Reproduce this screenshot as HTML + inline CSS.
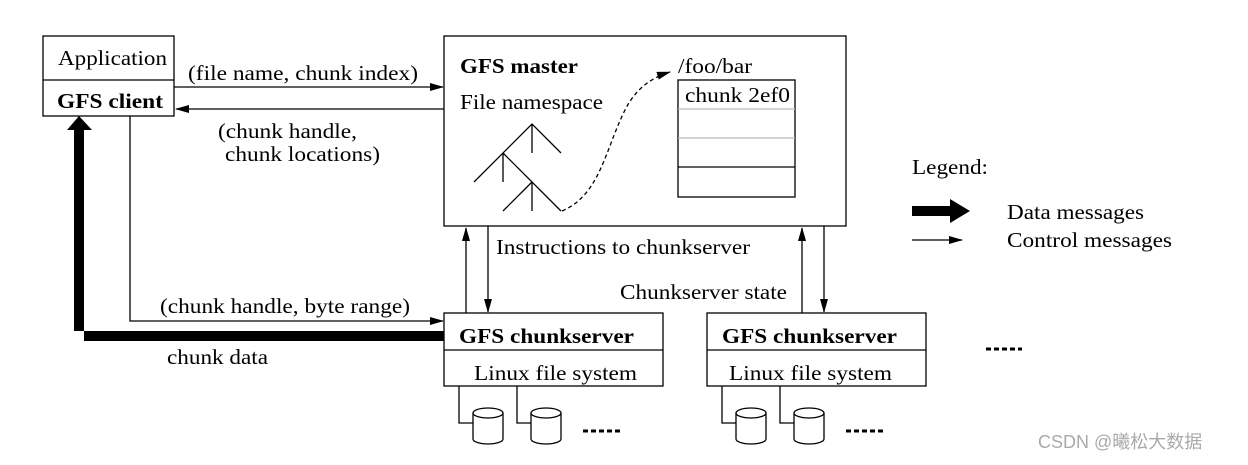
<!DOCTYPE html>
<html><head><meta charset="utf-8"><style>
html,body{margin:0;padding:0;background:#fff}
svg text{font-family:"Liberation Serif",serif;font-size:21px;fill:#000}
.b{font-weight:bold}
</style></head><body>
<svg width="1248" height="460" viewBox="0 0 1248 460" xmlns="http://www.w3.org/2000/svg">
<defs>
<marker id="a" markerWidth="14" markerHeight="8" refX="13" refY="4" orient="auto" markerUnits="userSpaceOnUse"><path d="M0,0L14,4L0,8z" fill="#000"/></marker>
</defs>
<g fill="none" stroke="#000" stroke-width="1.3">
<rect x="43" y="36" width="131" height="80"/><line x1="43" y1="80" x2="174" y2="80"/>
<rect x="444" y="36" width="402" height="190"/>
<rect x="444" y="313" width="219" height="73"/><line x1="444" y1="350" x2="663" y2="350"/>
<rect x="707" y="313" width="219" height="73"/><line x1="707" y1="350" x2="926" y2="350"/>
<line x1="174" y1="87" x2="443" y2="87" marker-end="url(#a)"/>
<line x1="444" y1="109" x2="176" y2="109" marker-end="url(#a)"/>
<polyline points="130,116 130,321 443,321" marker-end="url(#a)"/>
<line x1="466" y1="313" x2="466" y2="228" marker-end="url(#a)"/>
<line x1="488" y1="226" x2="488" y2="312" marker-end="url(#a)"/>
<line x1="802" y1="313" x2="802" y2="228" marker-end="url(#a)"/>
<line x1="824" y1="226" x2="824" y2="312" marker-end="url(#a)"/>
<polyline points="474,182 532,124 561,153"/><line x1="532" y1="124" x2="532" y2="153"/>
<polyline points="503,153 561,211"/><line x1="503" y1="153" x2="503" y2="182"/>
<polyline points="503,211 532,182"/><line x1="532" y1="182" x2="532" y2="211"/>
<path d="M562,211 C600,195 605,150 625,110 C635,90 650,78 670,72" stroke-dasharray="4,3" marker-end="url(#a)"/>
<rect x="678" y="80" width="117" height="117"/>
<line x1="678" y1="109" x2="795" y2="109" stroke="#bbb"/><line x1="678" y1="138" x2="795" y2="138" stroke="#bbb"/><line x1="678" y1="167" x2="795" y2="167"/>
<polyline points="459,386 459,423 473,423"/><polyline points="517,386 517,423 531,423"/>
<polyline points="722,386 722,423 736,423"/><polyline points="780,386 780,423 794,423"/>
<line x1="912" y1="240" x2="962" y2="240" marker-end="url(#a)"/>
</g>
<g fill="#fff" stroke="#000" stroke-width="1.3">
<path d="M473,413 v26 a15,5 0 0 0 30,0 v-26"/><ellipse cx="488" cy="413" rx="15" ry="5"/>
<path d="M531,413 v26 a15,5 0 0 0 30,0 v-26"/><ellipse cx="546" cy="413" rx="15" ry="5"/>
<path d="M736,413 v26 a15,5 0 0 0 30,0 v-26"/><ellipse cx="751" cy="413" rx="15" ry="5"/>
<path d="M794,413 v26 a15,5 0 0 0 30,0 v-26"/><ellipse cx="809" cy="413" rx="15" ry="5"/>
</g>
<g stroke="#000" stroke-width="3" stroke-dasharray="5,3">
<line x1="583" y1="431" x2="620" y2="431"/><line x1="846" y1="431" x2="883" y2="431"/><line x1="986" y1="349" x2="1022" y2="349"/>
</g>
<path d="M444,331 H74 V130 H67 L79,116 L92,130 H84 V341 H444 Z" fill="#000"/>
<path d="M912,206 H950 V199 L970,211 L950,223 V216 H912 Z" fill="#000"/>
<g lengthAdjust="spacingAndGlyphs">
<text x="58" y="65" textLength="109" lengthAdjust="spacingAndGlyphs">Application</text>
<text x="57" y="108" class="b" textLength="106" lengthAdjust="spacingAndGlyphs">GFS client</text>
<text x="188" y="80" textLength="230" lengthAdjust="spacingAndGlyphs">(file name, chunk index)</text>
<text x="218" y="138" textLength="139" lengthAdjust="spacingAndGlyphs">(chunk handle,</text>
<text x="225" y="161" textLength="155" lengthAdjust="spacingAndGlyphs">chunk locations)</text>
<text x="160" y="313" textLength="250" lengthAdjust="spacingAndGlyphs">(chunk handle, byte range)</text>
<text x="167" y="364" textLength="101" lengthAdjust="spacingAndGlyphs">chunk data</text>
<text x="460" y="73" class="b" textLength="118" lengthAdjust="spacingAndGlyphs">GFS master</text>
<text x="460" y="109" textLength="143" lengthAdjust="spacingAndGlyphs">File namespace</text>
<text x="678" y="73" textLength="74" lengthAdjust="spacingAndGlyphs">/foo/bar</text>
<text x="685" y="102" textLength="105" lengthAdjust="spacingAndGlyphs">chunk 2ef0</text>
<text x="496" y="254" textLength="254" lengthAdjust="spacingAndGlyphs">Instructions to chunkserver</text>
<text x="620" y="299" textLength="167" lengthAdjust="spacingAndGlyphs">Chunkserver state</text>
<text x="459" y="343" class="b" textLength="175" lengthAdjust="spacingAndGlyphs">GFS chunkserver</text>
<text x="474" y="380" textLength="163" lengthAdjust="spacingAndGlyphs">Linux file system</text>
<text x="722" y="343" class="b" textLength="175" lengthAdjust="spacingAndGlyphs">GFS chunkserver</text>
<text x="729" y="380" textLength="163" lengthAdjust="spacingAndGlyphs">Linux file system</text>
<text x="912" y="174" textLength="76" lengthAdjust="spacingAndGlyphs">Legend:</text>
<text x="1007" y="219" textLength="137" lengthAdjust="spacingAndGlyphs">Data messages</text>
<text x="1007" y="247" textLength="165" lengthAdjust="spacingAndGlyphs">Control messages</text>
</g>
<text x="1038" y="448" style="font-family:'Liberation Sans','Noto Sans CJK SC',sans-serif;font-size:18px;fill:#aaa">CSDN @曦松大数据</text>
</svg>
</body></html>
